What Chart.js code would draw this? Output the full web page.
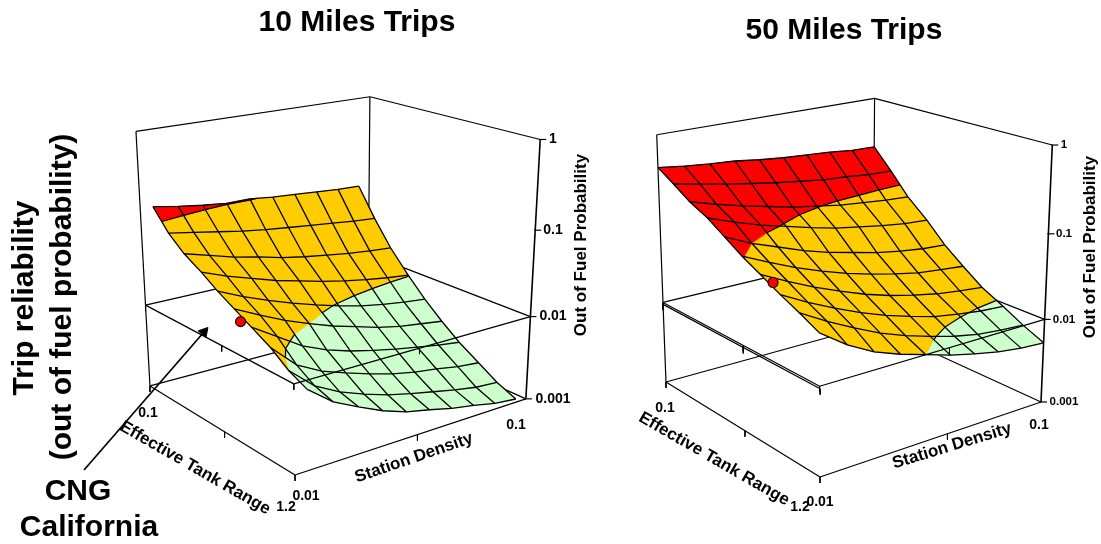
<!DOCTYPE html>
<html lang="en">
<head>
    <title>Trip reliability - Out of Fuel Probability</title>
    <script src="https://cdn.jsdelivr.net/npm/chart.js"></script>
    <style>
        body { margin: 0; background: #fff; }
        canvas { display: block; }
    </style>
</head>
<body>
<canvas id="myChart" width="1101" height="544"></canvas>
<script>
var tankNodes = [1.2, 1.08, 0.96, 0.83, 0.71, 0.59, 0.47, 0.34, 0.22, 0.1];
var densityNodes10 = [0.0145, 0.0235, 0.0325, 0.0415, 0.0505, 0.0595, 0.0685, 0.0775, 0.0865, 0.0955];
var densityNodes50 = [0.01, 0.02, 0.03, 0.04, 0.05, 0.06, 0.07, 0.08, 0.09, 0.1];

// log10 of out of fuel probability, one row per tank node, one column per density node
var logProb10 = [
    [-2.10, -2.32, -2.46, -2.59, -2.69, -2.75, -2.82, -2.87, -2.93, -2.96],
    [-2.00, -2.25, -2.40, -2.51, -2.60, -2.67, -2.73, -2.79, -2.84, -2.86],
    [-1.85, -2.12, -2.27, -2.37, -2.46, -2.54, -2.60, -2.64, -2.69, -2.72],
    [-1.73, -1.91, -2.09, -2.21, -2.30, -2.37, -2.43, -2.48, -2.53, -2.57],
    [-1.62, -1.76, -1.89, -2.00, -2.10, -2.18, -2.26, -2.32, -2.36, -2.40],
    [-1.51, -1.64, -1.75, -1.85, -1.94, -2.02, -2.09, -2.14, -2.18, -2.21],
    [-1.38, -1.49, -1.58, -1.67, -1.74, -1.81, -1.87, -1.92, -1.96, -1.99],
    [-1.26, -1.34, -1.42, -1.48, -1.55, -1.60, -1.64, -1.68, -1.71, -1.73],
    [-1.10, -1.15, -1.20, -1.25, -1.29, -1.32, -1.35, -1.38, -1.41, -1.43],
    [-0.87, -0.92, -0.96, -0.99, -0.99, -1.02, -1.04, -1.06, -1.08, -1.09]
];
var logProb50 = [
    [-1.43, -1.64, -1.80, -1.91, -2.00, -2.09, -2.16, -2.22, -2.26, -2.28],
    [-1.32, -1.49, -1.64, -1.78, -1.89, -1.98, -2.06, -2.12, -2.15, -2.17],
    [-1.22, -1.38, -1.52, -1.65, -1.76, -1.85, -1.93, -1.98, -2.02, -2.04],
    [-1.10, -1.25, -1.39, -1.51, -1.62, -1.71, -1.78, -1.84, -1.88, -1.91],
    [-0.99, -1.13, -1.26, -1.37, -1.47, -1.55, -1.62, -1.68, -1.71, -1.74],
    [-0.86, -1.00, -1.11, -1.22, -1.31, -1.38, -1.45, -1.50, -1.54, -1.56],
    [-0.73, -0.84, -0.94, -1.02, -1.10, -1.17, -1.22, -1.27, -1.31, -1.33],
    [-0.63, -0.72, -0.80, -0.87, -0.94, -0.99, -1.04, -1.07, -1.10, -1.12],
    [-0.50, -0.56, -0.62, -0.67, -0.72, -0.76, -0.80, -0.82, -0.85, -0.86],
    [-0.38, -0.42, -0.45, -0.47, -0.51, -0.54, -0.56, -0.58, -0.61, -0.62]
];

// CNG California point: tank, density, log10 probability
var cng10 = [0.848, 0.01, -1.62];
var cng50 = [0.914, 0.01, -1.125];

var zTickValues = [-3, -2, -1, 0];
var zTickLabels = ["0.001", "0.01", "0.1", "1"];
var tankTickLabels = ["0.1", "1.2"];
var densityTickLabels = ["0.01", "0.1"];
var bandLimits = [-3, -2, -1, 0];
var bandColors = ["#CCFFCC", "#FFCC00", "#FF0000"];

// perspective of each box: constant, tank, density, height coefficients
var panel10 = {
    cx: [295, -122.1, 298.7, -27],
    cy: [475, -30, -24.7, -304],
    cd: [1, 0.153, 0.129, -0.08],
    densityNodes: densityNodes10,
    logProb: logProb10,
    cng: cng10,
    midTank: 0.45,
    midDensity: 0.5,
    doubleLine: false
};
var panel50 = {
    cx: [820, -46.8, 340.4, -49.5],
    cy: [477, -33.5, -28.9, -295],
    cd: [1, 0.161, 0.1147, -0.059],
    densityNodes: densityNodes50,
    logProb: logProb50,
    cng: cng50,
    midTank: 0.45,
    midDensity: 0.55,
    doubleLine: true
};

function tankPos(t) { return (1.2 - t) / 1.1; }
function densityPos(d) { return (d - 0.01) / 0.09; }
function heightPos(lp) { return (lp + 3) / 3; }

function project(panel, p, q, w) {
    var d = panel.cd[0] + panel.cd[1] * p + panel.cd[2] * q + panel.cd[3] * w;
    return {
        x: (panel.cx[0] + panel.cx[1] * p + panel.cx[2] * q + panel.cx[3] * w) / d,
        y: (panel.cy[0] + panel.cy[1] * p + panel.cy[2] * q + panel.cy[3] * w) / d
    };
}

// painter order: first pushed is drawn first
var layers = [];

function addLine(points, width) {
    layers.push({
        data: points,
        showLine: true,
        fill: false,
        borderColor: "#000",
        borderWidth: width || 1.2,
        pointRadius: 0,
        clip: false
    });
}

function addPoly(points, color) {
    layers.push({
        data: points.concat([points[0]]),
        showLine: true,
        fill: "shape",
        backgroundColor: color,
        borderColor: color,
        borderWidth: 0.7,
        pointRadius: 0,
        clip: false
    });
}

function edge(panel, a, b, width) {
    addLine([project(panel, a[0], a[1], a[2]), project(panel, b[0], b[1], b[2])], width);
}

// keep the part of a polygon on one side of a height
function clipPoly(poly, limit, above) {
    var out = [];
    for (var i = 0; i < poly.length; i++) {
        var a = poly[i], b = poly[(i + 1) % poly.length];
        var aIn = above ? a[2] >= limit : a[2] <= limit;
        var bIn = above ? b[2] >= limit : b[2] <= limit;
        if (aIn) out.push(a);
        if (aIn !== bIn) {
            var f = (limit - a[2]) / (b[2] - a[2]);
            out.push([a[0] + (b[0] - a[0]) * f, a[1] + (b[1] - a[1]) * f, limit]);
        }
    }
    return out;
}

function drawBox(panel) {
    var w1 = heightPos(-2);
    edge(panel, [1, 0, 1], [1, 1, 1]);
    edge(panel, [1, 1, 1], [0, 1, 1]);
    edge(panel, [1, 0, 0], [1, 0, 1]);
    edge(panel, [1, 1, 0], [1, 1, 1]);
    edge(panel, [1, 0, 0], [1, 1, 0]);
    edge(panel, [1, 1, 0], [0, 1, 0]);
    edge(panel, [1, 0, w1], [1, 1, w1]);
    edge(panel, [1, 1, w1], [0, 1, w1]);
}

function drawSurface(panel) {
    var rows = tankNodes.length, cols = panel.densityNodes.length;
    var node = function (i, j) {
        return [tankPos(tankNodes[i]), densityPos(panel.densityNodes[j]), heightPos(panel.logProb[i][j])];
    };
    var pt = function (n) { return project(panel, n[0], n[1], n[2]); };
    var i, j, b;
    var contour = [];

    // far cells first
    for (i = rows - 2; i >= 0; i--) {
        for (j = 0; j < cols - 1; j++) {
            var cell = [node(i, j), node(i, j + 1), node(i + 1, j + 1), node(i + 1, j)];
            for (b = 0; b < bandColors.length; b++) {
                var part = clipPoly(cell, heightPos(bandLimits[b]), true);
                part = clipPoly(part, heightPos(bandLimits[b + 1]), false);
                if (part.length > 2) addPoly(part.map(pt), bandColors[b]);
            }
            // band edges
            for (b = 1; b < bandLimits.length - 1; b++) {
                var lim = heightPos(bandLimits[b]);
                var hits = [];
                for (var k = 0; k < 4; k++) {
                    var n1 = cell[k], n2 = cell[(k + 1) % 4];
                    if ((n1[2] - lim) * (n2[2] - lim) < 0) {
                        var f = (lim - n1[2]) / (n2[2] - n1[2]);
                        hits.push(project(panel, n1[0] + (n2[0] - n1[0]) * f, n1[1] + (n2[1] - n1[1]) * f, lim));
                    }
                }
                if (hits.length === 2) contour.push(hits[0], hits[1], { x: NaN, y: NaN });
            }
        }
    }
    addLine(contour, 1.2);

    // mesh
    for (i = 0; i < rows; i++) {
        var line = [];
        for (j = 0; j < cols; j++) line.push(pt(node(i, j)));
        addLine(line, 1.3);
    }
    for (j = 0; j < cols; j++) {
        var col = [];
        for (i = 0; i < rows; i++) col.push(pt(node(i, j)));
        addLine(col, 1.3);
    }
}

function tickDown(panel, p, q, w) {
    var a = project(panel, p, q, w);
    addLine([a, { x: a.x, y: a.y + 6 }], 1);
}

function drawFront(panel) {
    var w1 = heightPos(-2);
    edge(panel, [1, 0, 0], [0, 0, 0]);
    edge(panel, [0, 0, 0], [0, 1, 0]);
    edge(panel, [1, 0, w1], [0, 0, w1]);
    edge(panel, [0, 0, w1], [0, 1, w1]);
    edge(panel, [0, 1, 0], [0, 1, 1], 1.6);

    tickDown(panel, 1, 0, 0);
    tickDown(panel, panel.midTank, 0, 0);
    tickDown(panel, 0, 0, 0);
    tickDown(panel, 0, panel.midDensity, 0);
    tickDown(panel, 1, 0, w1);
    tickDown(panel, panel.midTank, 0, w1);
    tickDown(panel, 0, 0, w1);
    tickDown(panel, 0, panel.midDensity, w1);

    if (panel.doubleLine) {
        var w2 = w1 - 0.008;
        edge(panel, [1, 0, w2], [0, 0, w2]);
        tickDown(panel, 1.003, 0, w2);
        tickDown(panel, panel.midTank, 0, w2);
        tickDown(panel, -0.003, 0, w2);
    }

    zTickValues.forEach(function (v) {
        var a = project(panel, 0, 1, heightPos(v));
        addLine([{ x: a.x - 1, y: a.y }, { x: a.x + 6, y: a.y }], 1.2);
    });

    var c = panel.cng;
    var dot = project(panel, tankPos(c[0]), densityPos(c[1]), heightPos(c[2]));
    layers.push({
        data: [dot],
        pointRadius: 5,
        pointBackgroundColor: "#FF0000",
        pointBorderColor: "#000",
        pointBorderWidth: 1.1,
        clip: false
    });
}

[panel10, panel50].forEach(function (panel) {
    drawBox(panel);
    drawSurface(panel);
    drawFront(panel);
});

// CNG California arrow
addLine([{ x: 84, y: 470 }, { x: 204, y: 332 }], 1.7);
layers.push({
    data: [{ x: 204, y: 332 }],
    pointStyle: "triangle",
    pointRotation: 41,
    pointRadius: 6,
    pointBackgroundColor: "#000",
    pointBorderColor: "#000",
    clip: false
});

// all the text of the picture
var FONT = '"Liberation Sans", Arial, sans-serif';
function label(ctx, text, x, y, size, angle) {
    ctx.save();
    ctx.translate(x, y);
    ctx.rotate((angle || 0) * Math.PI / 180);
    ctx.font = "bold " + size + "px " + FONT;
    ctx.fillText(text, 0, 0);
    ctx.restore();
}

var textPlugin = {
    id: "texts",
    afterDraw: function (chart) {
        var ctx = chart.ctx;
        ctx.save();
        ctx.fillStyle = "#000";
        ctx.textAlign = "center";
        ctx.textBaseline = "middle";

        label(ctx, "10 Miles Trips", 357, 23, 30);
        label(ctx, "50 Miles Trips", 844, 31, 30);
        label(ctx, "CNG", 78, 492, 30);
        label(ctx, "California", 89, 528, 30);
        label(ctx, "Trip reliability", 25, 298, 30, -90);
        label(ctx, "(out of fuel probability)", 63, 297, 30, -90);

        label(ctx, "Effective Tank Range", 195, 468, 17, 30);
        label(ctx, "Station Density", 414, 458, 17, -19);
        label(ctx, "Out of Fuel Probability", 581, 245, 17, -90);
        label(ctx, "Effective Tank Range", 714, 459, 17, 30);
        label(ctx, "Station Density", 952, 446, 17, -17);
        label(ctx, "Out of Fuel Probability", 1090, 247, 17, -90);

        label(ctx, tankTickLabels[0], 148, 413, 14);
        label(ctx, tankTickLabels[1], 286, 507, 14);
        label(ctx, densityTickLabels[0], 306, 496, 14);
        label(ctx, densityTickLabels[1], 516, 425, 14);
        label(ctx, tankTickLabels[0], 665, 408, 14);
        label(ctx, tankTickLabels[1], 800, 507, 14);
        label(ctx, densityTickLabels[0], 820, 502, 14);
        label(ctx, densityTickLabels[1], 1039, 425, 14);

        zTickValues.forEach(function (v, n) {
            var a = project(panel10, 0, 1, heightPos(v));
            var b = project(panel50, 0, 1, heightPos(v));
            label(ctx, zTickLabels[n], 553, a.y, 14);
            label(ctx, zTickLabels[n], 1064, b.y, 11.5);
        });
        ctx.restore();
    }
};

new Chart(document.getElementById("myChart").getContext("2d"), {
    type: "scatter",
    data: { datasets: layers.slice().reverse() },
    options: {
        responsive: false,
        animation: false,
        events: [],
        layout: { padding: 0, autoPadding: false },
        plugins: { legend: { display: false }, tooltip: { enabled: false } },
        scales: {
            x: { type: "linear", min: 0, max: 1101, display: false },
            y: { type: "linear", min: 0, max: 544, reverse: true, display: false }
        }
    },
    plugins: [textPlugin]
});
</script>
</body>
</html>
